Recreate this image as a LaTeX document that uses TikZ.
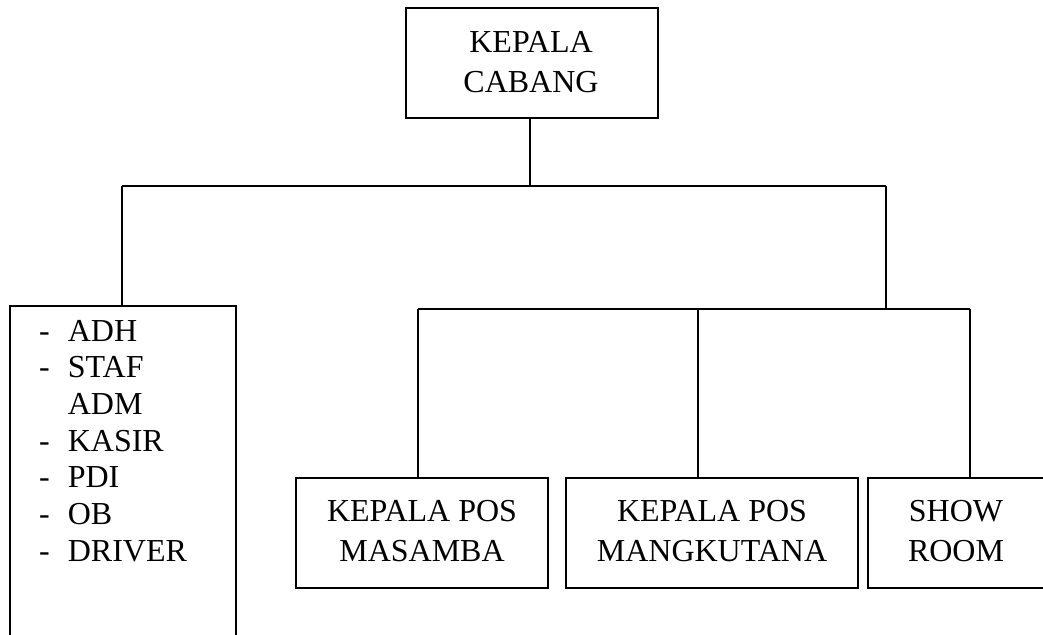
\documentclass[tikz,border=0pt]{standalone}
\usepackage{fontspec}
\setmainfont{Liberation Serif}
\begin{document}
\begin{tikzpicture}[x=1pt,y=-1pt,
  box/.style={draw, line width=1.6pt, inner sep=0pt},
  conn/.style={line width=1.4pt},
  txt/.style={inner sep=0pt, align=center, font=\fontsize{32}{40.5}\selectfont},
  font=\fontsize{32}{37}\selectfont]
\clip (0,0) rectangle (1043,634);
% boxes
\node[box, minimum width=252pt, minimum height=110pt] (kc) at (532,63) {};
\node[txt] (kctxt) at (531,62) {KEPALA\\CABANG};
\node[box, minimum width=226pt, minimum height=360pt] (staffbox) at (123,486) {};
\node[inner sep=0pt, anchor=base west] (staff) at (39,341) {%
  \fontsize{32}{36.7}\selectfont
  \begin{tabular}[t]{@{}l@{\hspace{18pt}}l@{}}
  - & ADH\\
  - & STAF\\
    & ADM\\
  - & KASIR\\
  - & PDI\\
  - & OB\\
  - & DRIVER
  \end{tabular}};
\node[box, minimum width=252pt, minimum height=110pt] (masamba) at (422,533) {};
\node[txt] (masambatxt) at (422,531) {KEPALA POS\\MASAMBA};
\node[box, minimum width=292pt, minimum height=110pt] (mangku) at (712,533) {};
\node[txt] (mangkutxt) at (712,531) {KEPALA POS\\MANGKUTANA};
\node[box, minimum width=176pt, minimum height=110pt] (showbox) at (956,533) {};
\node[txt] (show) at (956,531) {SHOW\\ROOM};
% junctions
\coordinate (j0) at (530,186);
\coordinate (a1) at (122,186);
\coordinate (a2) at (886,186);
\coordinate (b0) at (886,309);
\coordinate (b1) at (418,309);
\coordinate (b2) at (698,309);
\coordinate (b3) at (970,309);
% connectors
\draw[conn] (kc.south -| j0) -- (j0);
\draw[conn] (a1) -- (a2);
\draw[conn] (a1) -- (a1 |- staffbox.north);
\draw[conn] (a2) -- (b0);
\draw[conn] (b1) -- (b3);
\draw[conn] (b1) -- (b1 |- masamba.north);
\draw[conn] (b2) -- (b2 |- mangku.north);
\draw[conn] (b3) -- (b3 |- showbox.north);
\end{tikzpicture}
\end{document}
